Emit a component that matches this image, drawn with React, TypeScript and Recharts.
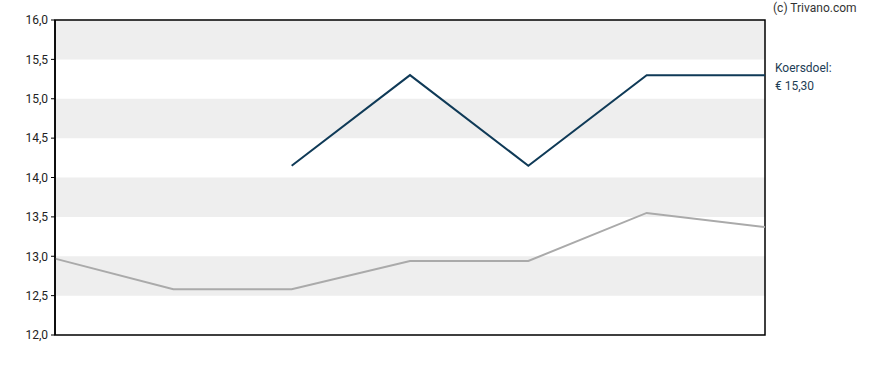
import React from 'react';
import { LineChart, Line, XAxis, YAxis, ReferenceArea } from 'recharts';

const periods = ['p1', 'p2', 'p3', 'p4', 'p5', 'p6', 'p7'];
const koers = [12.97, 12.58, 12.58, 12.94, 12.94, 13.55, 13.37];
const koersdoel = [null, null, 14.15, 15.3, 14.15, 15.3, 15.3];
const yTicks = [12, 12.5, 13, 13.5, 14, 14.5, 15, 15.5, 16];
const bands = [
  [12.5, 13],
  [13.5, 14],
  [14.5, 15],
  [15.5, 16],
];

const data = periods.map((p, i) => ({ name: p, koers: koers[i], doel: koersdoel[i] }));

const fmt = (v: number) => v.toFixed(1).replace('.', ',');

const App: React.FC = () => {
  return (
    <div style={{ position: 'relative', width: 888, height: 370, fontFamily: 'Roboto, sans-serif' }}>
      <style>{'body{margin:0}'}</style>
      <LineChart width={888} height={370} data={data} margin={{ top: 20, right: 123, bottom: 35, left: 0 }}>
        {bands.map(([a, b], i) => (
          <ReferenceArea key={i} y1={a} y2={b} fill="#eeeeee" fillOpacity={1} stroke="none" ifOverflow="hidden" />
        ))}
        <ReferenceArea
          x1={periods[0]}
          x2={periods[periods.length - 1]}
          y1={yTicks[0]}
          y2={yTicks[yTicks.length - 1]}
          fill="none"
          fillOpacity={0}
          stroke="#000"
          strokeWidth={1.5}
          strokeOpacity={1}
        />
        <XAxis dataKey="name" hide />
        <YAxis
          domain={[12, 16]}
          ticks={yTicks}
          width={55}
          tickFormatter={fmt}
          tickSize={4}
          tickMargin={3}
          axisLine={{ stroke: '#000', strokeWidth: 1.5 }}
          tickLine={{ stroke: '#000' }}
          tick={{ fontSize: 12, fill: '#222', fontFamily: 'Roboto, sans-serif' }}
          interval={0}
        />
        <Line dataKey="koers" stroke="#aaaaaa" strokeWidth={2} dot={false} isAnimationActive={false} />
        <Line dataKey="doel" stroke="#0f3a57" strokeWidth={2} dot={false} isAnimationActive={false} connectNulls={false} />
      </LineChart>
      <div style={{ position: 'absolute', left: 773, top: 1, fontSize: 12, color: '#333' }}>(c) Trivano.com</div>
      <div style={{ position: 'absolute', left: 775, top: 59, fontSize: 12, lineHeight: '18px', color: '#1d3d55' }}>
        Koersdoel:
        <br />€ 15,30
      </div>
    </div>
  );
};

export default App;
